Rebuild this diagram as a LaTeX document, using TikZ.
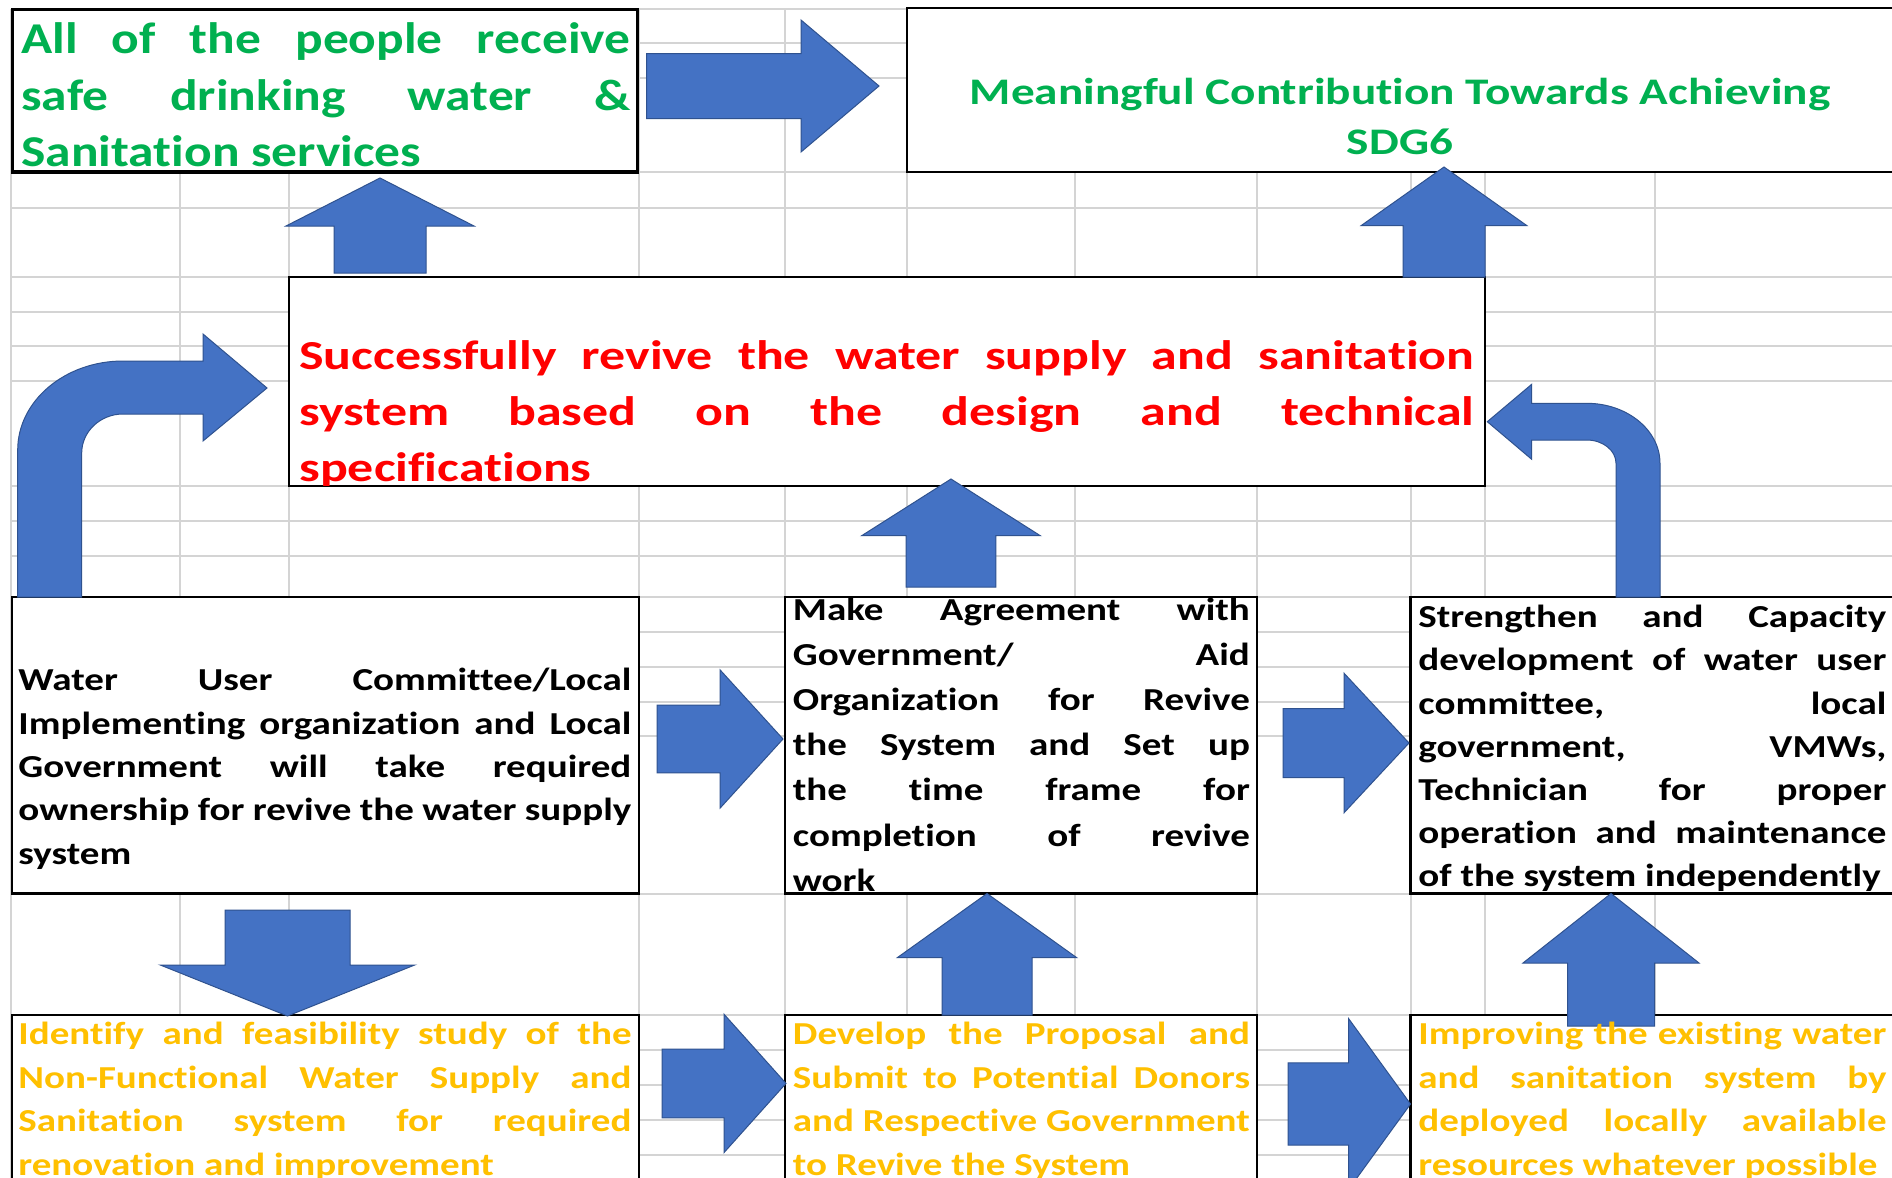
\documentclass[tikz,border=0pt]{standalone}
\usepackage{fontspec}
\setmainfont{Carlito}[Ligatures={TeX,NoCommon}]
\newfontfamily\goalfont{Carlito}[FakeStretch=1.17,Ligatures={TeX,NoCommon}]
\newfontfamily\widefont{Carlito}[FakeStretch=1.26,Ligatures={TeX,NoCommon}]
\newfontfamily\bodyfont{Carlito}[FakeStretch=1.22,Ligatures={TeX,NoCommon}]
\usetikzlibrary{fit}
\definecolor{gridgray}{HTML}{D4D4D4}
\definecolor{arrowfill}{HTML}{4472C4}
\definecolor{arrowedge}{HTML}{2F528F}
\definecolor{goalgreen}{HTML}{00B050}
\definecolor{stepred}{HTML}{FF0000}
\definecolor{stepgold}{HTML}{FFC000}
% one justified line of a box text
\newcommand{\jl}[1]{\makebox[\linewidth][s]{#1}\\}
% horizontal block arrow: start x, head base x, tip x, axis y, shaft half, head half
\newcommand{\hblock}[6]{%
  \path[blk] (#1,{#4-#5}) -- (#2,{#4-#5}) -- (#2,{#4-#6}) -- (#3,#4) -- (#2,{#4+#6}) -- (#2,{#4+#5}) -- (#1,{#4+#5}) -- cycle;}
% vertical block arrow: axis x, start y, head base y, tip y, shaft half, head half
\newcommand{\vblock}[6]{%
  \path[blk] ({#1-#5},#2) -- ({#1-#5},#3) -- ({#1-#6},#3) -- (#1,#4) -- ({#1+#6},#3) -- ({#1+#5},#3) -- ({#1+#5},#2) -- cycle;}
\begin{document}
\begin{tikzpicture}[x=0.5pt,y=-0.5pt,
  gridline/.style={draw=gridgray,line width=1pt},
  frame/.style={draw=black,fill=white,line width=1.15pt,inner sep=0pt},
  thickframe/.style={frame,line width=1.8pt},
  blk/.style={fill=arrowfill,draw=arrowedge,line width=0.5pt,line join=miter},
  txt/.style={inner sep=0pt,anchor=base west},
  bigfont/.style={font=\goalfont\fontsize{22}{28.35}\selectfont\bfseries},
  midfont/.style={font=\widefont\fontsize{20.6}{28.2}\selectfont\bfseries},
  titlefont/.style={font=\widefont\fontsize{18.75}{25}\selectfont\bfseries},
  smallfont/.style={font=\bodyfont\fontsize{16}{21.75}\selectfont\bfseries},
]
\useasboundingbox (0,0) rectangle (1892,1178);
\clip (0,0) rectangle (1892,1178);
\fill[white] (0,0) rectangle (1892,1178);

% spreadsheet grid
\foreach \y in {9,43,78,172,207.7,277,312,346,381,486,521,556,597,632,667,702,736,893.5,1015,1050,1085,1120,1155}
  \draw[gridline] (11,\y) -- (1892,\y);
\foreach \x in {11,180,289,639,785,907,1075,1257,1410.5,1485,1654.6}
  \draw[gridline] (\x,9) -- (\x,1178);

% boxes
\node[thickframe,fit={(12.5,9.5) (637.5,172)}] (boxA) {};
\node[frame,fit={(907,8) (1900,172)}] (boxB) {};
\node[frame,fit={(289,277) (1485,486)}] (boxC) {};
\node[frame,fit={(12,597) (639,893.5)}] (boxD) {};
\node[frame,fit={(785,597) (1257,893.5)}] (boxE) {};
\node[frame,fit={(1410.5,597) (1900,893.5)}] (boxF) {};
\node[frame,fit={(12,1015) (639,1200)}] (boxG) {};
\node[frame,fit={(785,1015) (1257,1200)}] (boxH) {};
\node[frame,fit={(1410.5,1015) (1900,1200)}] (boxI) {};

% straight block arrows
\hblock{646.5}{801}{879}{86}{32.5}{66}
\hblock{657}{720}{783}{739}{33.8}{69.2}
\hblock{1283}{1344}{1409}{743}{34.5}{69.8}
\hblock{662}{724}{786}{1083.4}{34.4}{69.2}
\hblock{1288}{1348.6}{1410.5}{1104}{41.2}{85.4}
\vblock{380}{273}{226}{178}{46}{94}
\vblock{1444}{277}{225.5}{167}{41}{82.7}
\vblock{951}{587}{535.7}{479}{44.8}{89.3}
\vblock{987}{1015}{957.6}{893.5}{45}{89.6}
\vblock{1611}{1026}{963}{893.5}{43.5}{88}
\vblock{287.5}{910}{965}{1016}{62.5}{127.2}

% bent arrow on the left, up and over to the red box
\path[blk] (17.7,597) -- (17.7,450)
  .. controls (17.7,400.9) and (65,361) .. (123,361)
  -- (203,361) -- (203,334) -- (267,388) -- (203,441) -- (203,414) -- (123,414)
  .. controls (100.4,414) and (81.7,431.5) .. (81.7,453)
  -- (81.7,597) -- cycle;
% bent arrow on the right, up and back to the red box
\path[blk] (1616,597) -- (1616,463.3)
  .. controls (1616,450.4) and (1602.9,440) .. (1586.7,440)
  -- (1531.7,440) -- (1531.7,459.3) -- (1487.3,421.7) -- (1531.7,384.3) -- (1531.7,403.3) -- (1586.7,403.3)
  .. controls (1627.2,403.3) and (1660,430.2) .. (1660,463.3)
  -- (1660,597) -- cycle;

% texts
\node[txt,bigfont,text=goalgreen] (tA) at (21,53.3) {\parbox[t]{304.5pt}{%
  \jl{All of the people receive}\jl{safe drinking water \&}Sanitation services}};
\node[inner sep=0pt,anchor=base,titlefont,text=goalgreen] (tB) at (1400,104) {\parbox[t]{480pt}{\centering
  Meaningful Contribution Towards Achieving\\SDG6}};
\begin{scope}
\clip (290,278) rectangle (1484,485);
\node[txt,midfont,text=stepred] (tC) at (299,369) {\parbox[t]{587.5pt}{%
  \jl{Successfully revive the water supply and sanitation}\jl{system based on the design and technical}specifications}};
\end{scope}
\node[txt,smallfont,text=black] (tD) at (18,690.6) {\parbox[t]{306.5pt}{\fontsize{16}{21.7}\selectfont
  \jl{Water User Committee/Local}\jl{Implementing organization and Local}\jl{Government will take required}\jl{ownership for revive the water supply}system}};
\node[txt,smallfont,text=black] (tE) at (792.5,620) {\parbox[t]{228.5pt}{\fontsize{16}{22.6}\selectfont
  \jl{Make Agreement with}\jl{Government/ Aid}\jl{Organization for Revive}\jl{the System and Set up}\jl{the time frame for}\jl{completion of revive}work}};
\node[txt,smallfont,text=black] (tF) at (1418,627.7) {\parbox[t]{234pt}{\fontsize{16}{21.6}\selectfont
  \jl{Strengthen and Capacity}\jl{development of water user}\jl{committee, local}\jl{government, VMWs,}\jl{Technician for proper}\jl{operation and maintenance}of the system independently}};
\node[txt,smallfont,text=stepgold] (tG) at (18,1044.5) {\parbox[t]{306.5pt}{%
  \jl{Identify and feasibility study of the}\jl{Non-Functional Water Supply and}\jl{Sanitation system for required}renovation and improvement}};
\node[txt,smallfont,text=stepgold] (tH) at (792.5,1044.5) {\parbox[t]{228.5pt}{%
  \jl{Develop the Proposal and}\jl{Submit to Potential Donors}\jl{and Respective Government}to Revive the System}};
\node[txt,smallfont,text=stepgold] (tI) at (1418,1044.5) {\parbox[t]{234pt}{%
  \jl{Improving the existing water}\jl{and sanitation system by}\jl{deployed locally available}resources whatever possible}};
\end{tikzpicture}
\end{document}
